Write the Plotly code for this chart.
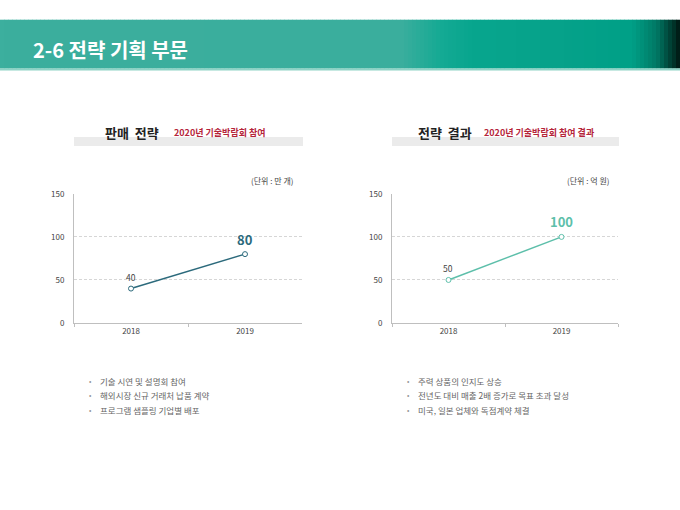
import plotly.graph_objects as go

W, H = 680, 510
FONT = "Noto Sans CJK KR"

page_title = "2-6 전략 기획 부문"

years = ["2018", "2019"]
sales = [40, 80]          # 만 개
revenue = [50, 100]       # 억 원

left_title = "판매 전략"
left_sub = "2020년 기술박람회 참여"
left_unit = "(단위 : 만 개)"
left_points = ["기술 시연 및 설명회 참여", "해외시장 신규 거래처 납품 계약", "프로그램 샘플링 기업별 배포"]

right_title = "전략 결과"
right_sub = "2020년 기술박람회 참여 결과"
right_unit = "(단위 : 억 원)"
right_points = ["주력 상품의 인지도 상승", "전년도 대비 매출 2배 증가로 목표 초과 달성", "미국, 일본 업체와 독점계약 체결"]

y_ticks = [0, 50, 100, 150]

LEFT_COLOR = "#2c6a7c"
RIGHT_COLOR = "#5dbfaa"
RED = "#b5243a"


def px(x):
    return x / W


def py(y):
    return 1 - y / H


fig = go.Figure()

fig.add_trace(go.Scatter(
    x=years, y=sales, xaxis="x", yaxis="y", mode="lines+markers",
    line=dict(color=LEFT_COLOR, width=1.5),
    marker=dict(size=5, color="white", line=dict(color=LEFT_COLOR, width=1)),
    hoverinfo="skip", showlegend=False,
))
fig.add_trace(go.Scatter(
    x=years, y=revenue, xaxis="x2", yaxis="y2", mode="lines+markers",
    line=dict(color=RIGHT_COLOR, width=1.5),
    marker=dict(size=5, color="white", line=dict(color=RIGHT_COLOR, width=1)),
    hoverinfo="skip", showlegend=False,
))

shapes = []
annotations = []

# header band with a rough horizontal gradient
stops = [(0, (60, 175, 158)), (400, (58, 174, 157)), (440, (20, 170, 148)),
         (470, (8, 166, 142)), (560, (6, 162, 138)), (630, (0, 160, 135)),
         (655, (0, 120, 100)), (672, (0, 50, 40)), (680, (0, 10, 8))]
step = 4
for xs in range(0, W, step):
    for (a, ca), (b, cb) in zip(stops[:-1], stops[1:]):
        if a <= xs < b:
            t = (xs - a) / (b - a)
            c = tuple(int(ca[k] + (cb[k] - ca[k]) * t) for k in range(3))
            break
    shapes.append(dict(type="rect", xref="paper", yref="paper",
                       x0=px(xs), x1=px(xs + step + 0.5), y0=py(64), y1=py(14),
                       fillcolor="rgb(%d,%d,%d)" % c, line=dict(width=0), layer="below"))
shapes.append(dict(type="rect", xref="paper", yref="paper", x0=0, x1=1,
                   y0=py(66), y1=py(63.5), fillcolor="#8fd3c6", line=dict(width=0), layer="below"))

annotations.append(dict(text="<b>%s</b>" % page_title, xref="paper", yref="paper",
                        x=px(31), y=py(44), xanchor="left", yanchor="middle", showarrow=False,
                        font=dict(family=FONT, size=20, color="white")))


def panel(x0, x1, title, sub, unit, points, tx, sx, values, xa, ya, color):
    # gray title bar
    shapes.append(dict(type="rect", xref="paper", yref="paper",
                       x0=px(x0), x1=px(x1 + 1), y0=py(143), y1=py(134),
                       fillcolor="#ebebeb", line=dict(width=0), layer="below"))
    annotations.append(dict(text="<b>%s</b>" % title.replace(" ", "&nbsp;&nbsp;"),
                            xref="paper", yref="paper",
                            x=px(tx), y=py(129), xanchor="left", yanchor="middle", showarrow=False,
                            font=dict(family=FONT, size=13, color="#222")))
    annotations.append(dict(text="<b>%s</b>" % sub, xref="paper", yref="paper",
                            x=px(sx), y=py(129), xanchor="left", yanchor="middle", showarrow=False,
                            font=dict(family=FONT, size=9, color=RED)))
    annotations.append(dict(text=unit, xref="paper", yref="paper",
                            x=px(x1 - 7), y=py(178), xanchor="right", yanchor="middle", showarrow=False,
                            font=dict(family=FONT, size=8, color="#444")))
    for i, p in enumerate(points):
        yy = 383 + i * 15
        annotations.append(dict(text="•", xref="paper", yref="paper",
                                x=px(x0 + 16), y=py(yy), xanchor="center", yanchor="middle",
                                showarrow=False, font=dict(family=FONT, size=7, color="#999")))
        annotations.append(dict(text=p, xref="paper", yref="paper",
                                x=px(x0 + 24), y=py(yy), xanchor="left", yanchor="middle",
                                showarrow=False, font=dict(family=FONT, size=8.5, color="#666")))
    # point labels (category axes take the category index): small first, large bold last
    annotations.append(dict(text=str(values[0]), xref=xa, yref=ya, x=0, y=values[0],
                            yshift=12, showarrow=False,
                            font=dict(family=FONT, size=8.5, color="#444")))
    annotations.append(dict(text="<b>%s</b>" % values[-1], xref=xa, yref=ya, x=len(values) - 1,
                            y=values[-1], yshift=15, showarrow=False,
                            font=dict(family=FONT, size=13, color=color)))


panel(74, 302, left_title, left_sub, left_unit, left_points, 103, 172, sales, "x", "y", LEFT_COLOR)
panel(392, 618, right_title, right_sub, right_unit, right_points, 416, 482, revenue, "x2", "y2", RIGHT_COLOR)

xaxis_style = dict(type="category", range=[-0.5, 1.5], showline=True, linecolor="#bfbfbf",
                   linewidth=1, ticks="outside", tickson="boundaries", ticklen=3, tickcolor="#bfbfbf",
                   showgrid=False, zeroline=False, fixedrange=True,
                   tickfont=dict(family=FONT, size=8, color="#444"))
yaxis_style = dict(range=[0, 150], tickvals=y_ticks, showline=True, linecolor="#bfbfbf", linewidth=1,
                   showgrid=True, gridcolor="#d6d6d6", griddash="3px,2px", gridwidth=1, zeroline=False,
                   ticks="", ticklabelstandoff=7, fixedrange=True,
                   tickfont=dict(family=FONT, size=8, color="#444"))

fig.update_layout(
    width=W, height=H,
    margin=dict(l=0, r=0, t=0, b=0),
    paper_bgcolor="white", plot_bgcolor="white",
    xaxis=dict(domain=[px(74), px(302)], anchor="y", **xaxis_style),
    yaxis=dict(domain=[py(324), py(192)], anchor="x", **yaxis_style),
    xaxis2=dict(domain=[px(392), px(618)], anchor="y2", **xaxis_style),
    yaxis2=dict(domain=[py(324), py(192)], anchor="x2", **yaxis_style),
    shapes=shapes,
    annotations=annotations,
    font=dict(family=FONT),
)

fig.write_html("out.html", config={"displayModeBar": False},
               post_script="document.body.style.margin='0';document.body.style.overflow='hidden';")
